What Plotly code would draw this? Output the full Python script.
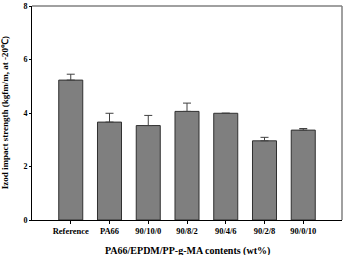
import plotly.graph_objects as go

categories = ["Reference", "PA66", "90/10/0", "90/8/2", "90/4/6", "90/2/8", "90/0/10"]
strength = [5.23, 3.66, 3.53, 4.06, 3.99, 2.96, 3.36]
err_up = [0.22, 0.33, 0.38, 0.31, 0.0, 0.13, 0.06]
y_ticks = [0, 2, 4, 6, 8]

font_family = "Liberation Serif"

fig = go.Figure()
fig.add_trace(go.Bar(
    x=list(range(len(categories))),
    y=strength,
    width=0.62,
    marker=dict(color="#7f7f7f", line=dict(color="#303030", width=1)),
    error_y=dict(type="data", symmetric=False, array=err_up,
                 arrayminus=[0] * len(err_up), color="#404040",
                 thickness=1, width=4),
))

fig.update_layout(
    width=344, height=255,
    margin=dict(l=32, r=2, t=6, b=35),
    paper_bgcolor="white", plot_bgcolor="white",
    showlegend=False,
    font=dict(family=font_family, color="black"),
)
fig.update_xaxes(
    range=[-1, 7], automargin=False,
    tickmode="array", tickvals=list(range(len(categories))), ticktext=categories,
    ticks="outside", ticklen=3, tickcolor="black",
    showline=True, linecolor="black", linewidth=1,
    showgrid=False, zeroline=False,
    tickfont=dict(size=8.5, family=font_family, weight="bold"),
)
fig.update_yaxes(
    range=[0, 8], automargin=False,
    tickmode="array", tickvals=y_ticks,
    ticks="outside", ticklen=2, tickcolor="black",
    showline=True, linecolor="black", linewidth=1,
    showgrid=False, zeroline=False,
    tickfont=dict(size=8, family=font_family, weight="bold"),
)
fig.add_annotation(text="<b>PA66/EPDM/PP-g-MA contents (wt%)</b>",
                   xref="paper", yref="paper", x=0.5, y=-0.145,
                   xanchor="center", yanchor="middle", showarrow=False,
                   font=dict(size=10, family=font_family, color="black"))
fig.add_annotation(text="<b>Izod impact strength (kgfm/m, at -20℃)</b>",
                   xref="paper", yref="paper", x=-0.086, y=0.5, textangle=-90,
                   xanchor="center", yanchor="middle", showarrow=False,
                   font=dict(size=9, family=font_family, color="black"))
# gray top and right frame
fig.add_shape(type="line", xref="paper", yref="paper", x0=0, x1=1, y0=1, y1=1,
              line=dict(color="#808080", width=1.5))
fig.add_shape(type="line", xref="paper", yref="paper", x0=1, x1=1, y0=0, y1=1,
              line=dict(color="#808080", width=1.5))

fig.write_html("out.html")
